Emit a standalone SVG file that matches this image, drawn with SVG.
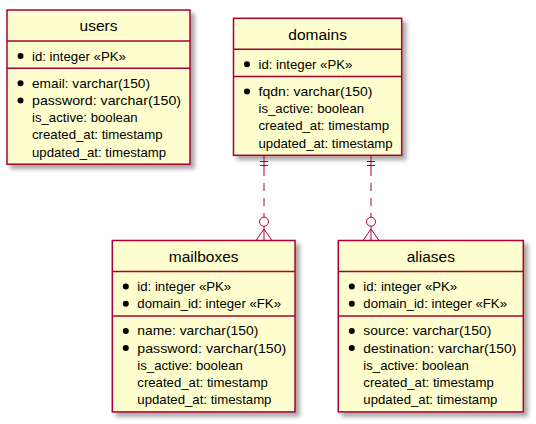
<svg xmlns="http://www.w3.org/2000/svg" width="536" height="424" viewBox="0 0 536 424">
<defs>
<filter id="sh" x="-10%" y="-10%" width="130%" height="130%">
<feGaussianBlur in="SourceAlpha" stdDeviation="2"/>
<feOffset dx="4" dy="4" result="b"/>
<feFlood flood-color="#000" flood-opacity="0.35"/>
<feComposite in2="b" operator="in"/>
<feMerge><feMergeNode/><feMergeNode in="SourceGraphic"/></feMerge>
</filter>
<style>
.box{fill:#FEFECE;stroke:#A80036;stroke-width:1.5;filter:url(#sh)}
.sep{stroke:#A80036;stroke-width:1.5}
.t{font-family:"Liberation Sans",Arial,sans-serif;font-size:15.5px;fill:#000;text-anchor:middle}
.a{font-family:"Liberation Sans",Arial,sans-serif;font-size:13.2px;fill:#000}
.b{fill:#000}
.c{stroke:#A80036;stroke-width:1;fill:none}
.d{stroke:#A80036;stroke-width:1;fill:none;stroke-dasharray:8,7}
.o{stroke:#A80036;stroke-width:1;fill:#FFFFFF}
</style>
</defs>
<rect width="536" height="424" fill="#FFFFFF"/>

<g id="users">
<rect class="box" x="7" y="10" width="183" height="154.2"/>
<text class="t" x="98.5" y="31">users</text>
<line class="sep" x1="7" y1="41" x2="190" y2="41"/>
<circle class="b" cx="20.5" cy="56" r="3"/>
<text class="a" x="32" y="60.5">id: integer «PK»</text>
<line class="sep" x1="7" y1="68.2" x2="190" y2="68.2"/>
<circle class="b" cx="20.5" cy="83.2" r="3"/>
<text class="a" x="32" y="87.7" textLength="118" lengthAdjust="spacingAndGlyphs">email: varchar(150)</text>
<circle class="b" cx="20.5" cy="100.4" r="3"/>
<text class="a" x="32" y="104.9" textLength="149" lengthAdjust="spacingAndGlyphs">password: varchar(150)</text>
<text class="a" x="32" y="122.1">is_active: boolean</text>
<text class="a" x="32" y="139.3">created_at: timestamp</text>
<text class="a" x="32" y="156.5">updated_at: timestamp</text>
</g>

<g id="domains">
<rect class="box" x="233.5" y="18.3" width="168.2" height="137"/>
<text class="t" x="317.6" y="39.5">domains</text>
<line class="sep" x1="233.5" y1="49.3" x2="401.7" y2="49.3"/>
<circle class="b" cx="247" cy="64.3" r="3"/>
<text class="a" x="258.5" y="68.8">id: integer «PK»</text>
<line class="sep" x1="233.5" y1="76.5" x2="401.7" y2="76.5"/>
<circle class="b" cx="247" cy="91.5" r="3"/>
<text class="a" x="258.5" y="96" textLength="114" lengthAdjust="spacingAndGlyphs">fqdn: varchar(150)</text>
<text class="a" x="258.5" y="113.2">is_active: boolean</text>
<text class="a" x="258.5" y="130.4">created_at: timestamp</text>
<text class="a" x="258.5" y="147.6">updated_at: timestamp</text>
</g>

<g id="mailboxes">
<rect class="box" x="112.3" y="240.5" width="182.7" height="171.4"/>
<text class="t" x="203.7" y="261.5">mailboxes</text>
<line class="sep" x1="112.3" y1="271.5" x2="295" y2="271.5"/>
<circle class="b" cx="125.8" cy="286.5" r="3"/>
<text class="a" x="137.3" y="291">id: integer «PK»</text>
<circle class="b" cx="125.8" cy="303.7" r="3"/>
<text class="a" x="137.3" y="308.2">domain_id: integer «FK»</text>
<line class="sep" x1="112.3" y1="315.9" x2="295" y2="315.9"/>
<circle class="b" cx="125.8" cy="330.9" r="3"/>
<text class="a" x="137.3" y="335.4" textLength="121" lengthAdjust="spacingAndGlyphs">name: varchar(150)</text>
<circle class="b" cx="125.8" cy="348.1" r="3"/>
<text class="a" x="137.3" y="352.6" textLength="149" lengthAdjust="spacingAndGlyphs">password: varchar(150)</text>
<text class="a" x="137.3" y="369.8">is_active: boolean</text>
<text class="a" x="137.3" y="387">created_at: timestamp</text>
<text class="a" x="137.3" y="404.2">updated_at: timestamp</text>
</g>

<g id="aliases">
<rect class="box" x="338.3" y="240.5" width="185" height="171.4"/>
<text class="t" x="430.8" y="261.5">aliases</text>
<line class="sep" x1="338.3" y1="271.5" x2="523.3" y2="271.5"/>
<circle class="b" cx="351.8" cy="286.5" r="3"/>
<text class="a" x="363.3" y="291">id: integer «PK»</text>
<circle class="b" cx="351.8" cy="303.7" r="3"/>
<text class="a" x="363.3" y="308.2">domain_id: integer «FK»</text>
<line class="sep" x1="338.3" y1="315.9" x2="523.3" y2="315.9"/>
<circle class="b" cx="351.8" cy="330.9" r="3"/>
<text class="a" x="363.3" y="335.4" textLength="128" lengthAdjust="spacingAndGlyphs">source: varchar(150)</text>
<circle class="b" cx="351.8" cy="348.1" r="3"/>
<text class="a" x="363.3" y="352.6" textLength="153" lengthAdjust="spacingAndGlyphs">destination: varchar(150)</text>
<text class="a" x="363.3" y="369.8">is_active: boolean</text>
<text class="a" x="363.3" y="387">created_at: timestamp</text>
<text class="a" x="363.3" y="404.2">updated_at: timestamp</text>
</g>

<g id="connectors">
<g id="domains-mailboxes">
<line class="c" x1="264" y1="156" x2="264" y2="168"/>
<line class="c" x1="260" y1="161.5" x2="268" y2="161.5"/>
<line class="c" x1="260" y1="165.5" x2="268" y2="165.5"/>
<line class="d" x1="264" y1="168" x2="264" y2="217.2"/>
<circle class="o" cx="264" cy="221.7" r="4.5"/>
<path class="c" d="M264,226.2 L264,240.5 M264,229 L256,240.5 M264,229 L272,240.5"/>
</g>
<g id="domains-aliases">
<line class="c" x1="371" y1="156" x2="371" y2="168"/>
<line class="c" x1="367" y1="161.5" x2="375" y2="161.5"/>
<line class="c" x1="367" y1="165.5" x2="375" y2="165.5"/>
<line class="d" x1="371" y1="168" x2="371" y2="217.2"/>
<circle class="o" cx="371" cy="221.7" r="4.5"/>
<path class="c" d="M371,226.2 L371,240.5 M371,229 L363,240.5 M371,229 L379,240.5"/>
</g>
</g>
</svg>
